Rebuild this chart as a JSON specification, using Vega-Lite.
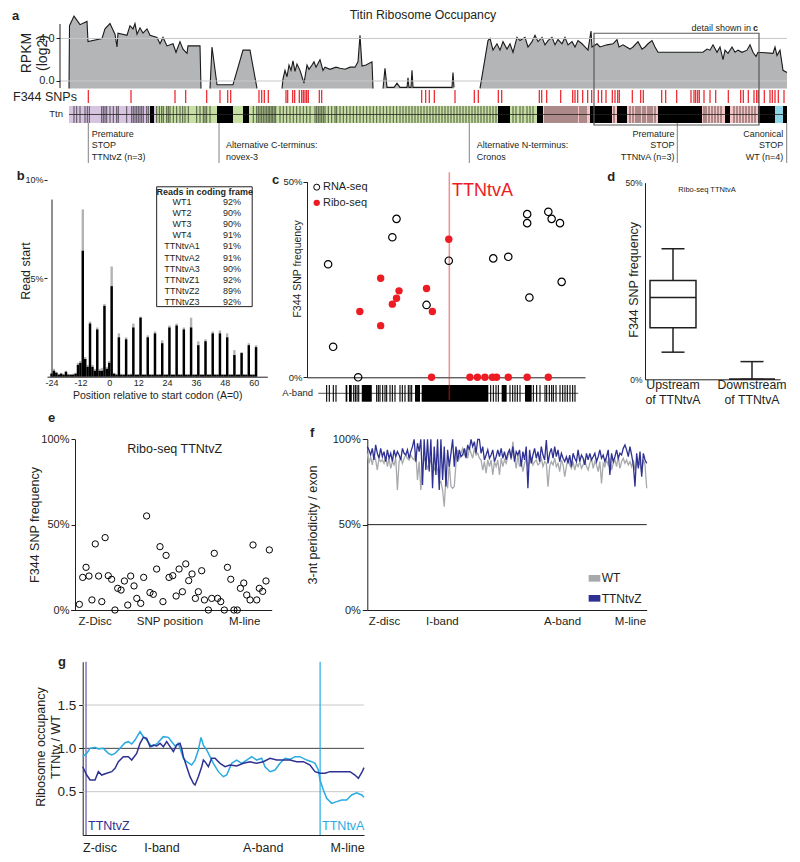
{
"$schema":"https://vega.github.io/schema/vega-lite/v6.json",
"width":800,"height":862,"autosize":"none","padding":0,"background":"white",
"config":{"font":"Liberation Sans","view":{"stroke":null},
 "axis":{"domainColor":"#231f20","tickColor":"#231f20","labelColor":"#231f20","titleColor":"#231f20","grid":false,"labelFlush":false,"labelOverlap":false,"domainWidth":1,"tickWidth":1,"labelFont":"Liberation Sans","titleFont":"Liberation Sans","titleFontWeight":"normal"},
 "text":{"font":"Liberation Sans","color":"#231f20"}},
"resolve":{"scale":{"x":"independent","y":"independent"}},
"datasets":{
"occ":[{"s":1,"p":0,"v":-0.7},{"s":1,"p":0.5,"v":5.2},{"s":1,"p":5,"v":6.1},{"s":1,"p":11,"v":5.3},{"s":1,"p":18,"v":5.6},{"s":1,"p":19,"v":3.7},{"s":1,"p":33,"v":4.0},{"s":1,"p":36,"v":4.9},{"s":1,"p":41,"v":5.4},{"s":1,"p":44,"v":4.8},{"s":1,"p":46,"v":4.4},{"s":1,"p":48,"v":3.2},{"s":1,"p":49,"v":4.5},{"s":1,"p":58,"v":4.3},{"s":1,"p":61,"v":5.2},{"s":1,"p":64,"v":4.9},{"s":1,"p":66,"v":5.4},{"s":1,"p":68,"v":4.4},{"s":1,"p":71,"v":5.0},{"s":1,"p":74,"v":4.5},{"s":1,"p":78,"v":4.9},{"s":1,"p":81,"v":4.3},{"s":1,"p":88,"v":4.1},{"s":1,"p":91,"v":3.5},{"s":1,"p":94,"v":4.1},{"s":1,"p":98,"v":3.3},{"s":1,"p":104,"v":3.5},{"s":1,"p":107,"v":2.7},{"s":1,"p":111,"v":3.7},{"s":1,"p":114,"v":3.0},{"s":1,"p":118,"v":2.6},{"s":1,"p":119,"v":3.3},{"s":1,"p":131,"v":3.3},{"s":1,"p":132,"v":-0.7},
{"s":2,"p":141,"v":-0.7},{"s":2,"p":143,"v":3.2},{"s":2,"p":148,"v":-0.35},{"s":2,"p":164,"v":-0.35},{"s":2,"p":174,"v":2.9},{"s":2,"p":181,"v":2.9},{"s":2,"p":188,"v":-0.7},
{"s":3,"p":213,"v":-0.7},{"s":3,"p":214,"v":0.2},{"s":3,"p":216,"v":1.0},{"s":3,"p":218,"v":0.4},{"s":3,"p":220,"v":1.5},{"s":3,"p":222,"v":1.0},{"s":3,"p":224,"v":1.9},{"s":3,"p":226,"v":0.9},{"s":3,"p":228,"v":1.6},{"s":3,"p":231,"v":1.0},{"s":3,"p":233,"v":0.4},{"s":3,"p":235,"v":-0.2},{"s":3,"p":238,"v":1.5},{"s":3,"p":240,"v":1.1},{"s":3,"p":243,"v":1.5},{"s":3,"p":245,"v":1.8},{"s":3,"p":247,"v":1.3},{"s":3,"p":251,"v":2.0},{"s":3,"p":254,"v":1.0},{"s":3,"p":256,"v":1.3},{"s":3,"p":261,"v":1.1},{"s":3,"p":267,"v":1.3},{"s":3,"p":271,"v":1.2},{"s":3,"p":276,"v":1.1},{"s":3,"p":281,"v":1.3},{"s":3,"p":286,"v":1.3},{"s":3,"p":289,"v":1.8},{"s":3,"p":291,"v":4.3},{"s":3,"p":293,"v":1.4},{"s":3,"p":297,"v":1.5},{"s":3,"p":303,"v":1.8},{"s":3,"p":304,"v":-0.7},
{"s":4,"p":314,"v":-0.7},{"s":4,"p":316,"v":1.2},{"s":4,"p":318,"v":-0.6},{"s":4,"p":325,"v":-0.6},{"s":4,"p":328,"v":-0.2},{"s":4,"p":331,"v":-0.6},{"s":4,"p":338,"v":-0.6},{"s":4,"p":339,"v":0.3},{"s":4,"p":340,"v":-0.6},{"s":4,"p":342,"v":-0.6},{"s":4,"p":343,"v":1.0},{"s":4,"p":344,"v":-0.6},{"s":4,"p":383,"v":-0.6},{"s":4,"p":384,"v":0.8},{"s":4,"p":385,"v":-0.6},
{"s":5,"p":411,"v":-0.7},{"s":5,"p":419,"v":3.8},{"s":5,"p":421,"v":4.0},{"s":5,"p":424,"v":2.9},{"s":5,"p":428,"v":3.5},{"s":5,"p":431,"v":2.9},{"s":5,"p":434,"v":3.7},{"s":5,"p":438,"v":3.0},{"s":5,"p":441,"v":3.5},{"s":5,"p":444,"v":2.7},{"s":5,"p":448,"v":4.1},{"s":5,"p":451,"v":3.8},{"s":5,"p":456,"v":4.1},{"s":5,"p":459,"v":3.2},{"s":5,"p":463,"v":3.7},{"s":5,"p":466,"v":4.3},{"s":5,"p":469,"v":3.7},{"s":5,"p":473,"v":4.1},{"s":5,"p":476,"v":3.4},{"s":5,"p":479,"v":3.8},{"s":5,"p":483,"v":4.1},{"s":5,"p":486,"v":3.4},{"s":5,"p":489,"v":3.9},{"s":5,"p":493,"v":3.5},{"s":5,"p":496,"v":4.1},{"s":5,"p":499,"v":3.4},{"s":5,"p":503,"v":3.7},{"s":5,"p":506,"v":3.2},{"s":5,"p":509,"v":3.8},{"s":5,"p":513,"v":3.5},{"s":5,"p":516,"v":3.2},{"s":5,"p":519,"v":2.9},{"s":5,"p":522,"v":4.7},{"s":5,"p":523,"v":3.2},{"s":5,"p":528,"v":3.5},{"s":5,"p":531,"v":3.2},{"s":5,"p":538,"v":3.4},{"s":5,"p":544,"v":3.5},{"s":5,"p":548,"v":3.9},{"s":5,"p":550,"v":3.2},{"s":5,"p":554,"v":3.4},{"s":5,"p":561,"v":3.0},{"s":5,"p":564,"v":3.2},{"s":5,"p":569,"v":3.7},{"s":5,"p":573,"v":3.0},{"s":5,"p":576,"v":3.2},{"s":5,"p":579,"v":3.5},{"s":5,"p":583,"v":3.8},{"s":5,"p":586,"v":3.2},{"s":5,"p":589,"v":2.7},{"s":5,"p":634,"v":2.7},{"s":5,"p":638,"v":3.0},{"s":5,"p":641,"v":2.9},{"s":5,"p":644,"v":3.4},{"s":5,"p":648,"v":2.7},{"s":5,"p":651,"v":3.2},{"s":5,"p":654,"v":2.0},{"s":5,"p":656,"v":2.9},{"s":5,"p":659,"v":2.6},{"s":5,"p":663,"v":3.2},{"s":5,"p":666,"v":2.7},{"s":5,"p":669,"v":2.9},{"s":5,"p":673,"v":2.7},{"s":5,"p":678,"v":2.9},{"s":5,"p":681,"v":3.4},{"s":5,"p":684,"v":2.7},{"s":5,"p":687,"v":2.3},{"s":5,"p":689,"v":2.7},{"s":5,"p":704,"v":2.6},{"s":5,"p":706,"v":3.2},{"s":5,"p":708,"v":2.4},{"s":5,"p":711,"v":2.9},{"s":5,"p":714,"v":1.0},{"s":5,"p":718,"v":0.8}],
"snp":[{"p":19.3},{"p":62},{"p":106},{"p":116.7},{"p":137.7},{"p":151},{"p":158.7},{"p":161.7},{"p":190},{"p":192.7},{"p":195.3},{"p":199.3},{"p":217},{"p":218.7},{"p":223.7},{"p":225.7},{"p":230.3},{"p":232.7},{"p":234.3},{"p":236},{"p":237.7},{"p":239.3},{"p":250.3},{"p":252.7},{"p":352.7},{"p":356.7},{"p":360.3},{"p":365.3},{"p":386},{"p":405.3},{"p":409.3},{"p":429.3},{"p":432.7},{"p":470.3},{"p":472.7},{"p":477.7},{"p":491.7},{"p":503.7},{"p":506},{"p":508.7},{"p":513.7},{"p":518.7},{"p":522.7},{"p":529.3},{"p":532.7},{"p":537},{"p":543.3},{"p":546},{"p":548.7},{"p":550.3},{"p":563.3},{"p":571.7},{"p":574.3},{"p":592.7},{"p":596.7},{"p":607.7},{"p":622},{"p":625},{"p":626.7},{"p":628.7},{"p":630.3},{"p":635},{"p":641},{"p":646.7},{"p":659.3},{"p":671.7},{"p":674.3},{"p":679.3},{"p":685},{"p":687.7},{"p":689.3},{"p":695.3},{"p":701},{"p":703.3},{"p":706},{"p":709.3},{"p":715}],
"reg":[{"s":0,"e":86,"r":"Z"},{"s":86,"e":474,"r":"I"},{"s":474,"e":706,"r":"A"},{"s":706,"e":714,"r":"M"}],
"blk":[{"s":81,"e":85},{"s":148,"e":164},{"s":174,"e":180},{"s":429,"e":441},{"s":468,"e":474},{"s":521,"e":543},{"s":548,"e":558},{"s":589,"e":633},{"s":656,"e":661},{"s":689,"e":706},{"s":714,"e":718}],
"stp":[{"p":5},{"p":7.7},{"p":11},{"p":16},{"p":18.3},{"p":20.3},{"p":32.7},{"p":34.3},{"p":36},{"p":37.7},{"p":41},{"p":44.3},{"p":47.7},{"p":49.3},{"p":57.7},{"p":62.7},{"p":64.3},{"p":66},{"p":67.7},{"p":69.3},{"p":71},{"p":72.7},{"p":74.3},{"p":77.7},{"p":79.3},{"p":87.7},{"p":90.3},{"p":92.7},{"p":94.3},{"p":97.7},{"p":99.3},{"p":101},{"p":104.3},{"p":107.7},{"p":111},{"p":113.7},{"p":116},{"p":119.3},{"p":127.7},{"p":131},{"p":134.3},{"p":136},{"p":137.7},{"p":141},{"p":184.3},{"p":187.7},{"p":189.3},{"p":191},{"p":192.7},{"p":194.3},{"p":196},{"p":197.7},{"p":199.2},{"p":200.7},{"p":202.2},{"p":203.7},{"p":205.2},{"p":206.7},{"p":211},{"p":214.3},{"p":217.7},{"p":221},{"p":224.3},{"p":227.7},{"p":231},{"p":234.3},{"p":237.7},{"p":241},{"p":246},{"p":247.7},{"p":249.3},{"p":251},{"p":252.7},{"p":254.3},{"p":256},{"p":259.3},{"p":262.7},{"p":266},{"p":267.7},{"p":271},{"p":274.3},{"p":277.7},{"p":281},{"p":284.3},{"p":287.7},{"p":291},{"p":294.3},{"p":297.7},{"p":301},{"p":304.3},{"p":307.7},{"p":311},{"p":314.3},{"p":317.7},{"p":321},{"p":324.3},{"p":327.7},{"p":331},{"p":334},{"p":337},{"p":340},{"p":343},{"p":346},{"p":349},{"p":352},{"p":355},{"p":358},{"p":361},{"p":364},{"p":367},{"p":370},{"p":373},{"p":376},{"p":379},{"p":382},{"p":385},{"p":388},{"p":391},{"p":394},{"p":397},{"p":400},{"p":403},{"p":406},{"p":409},{"p":412},{"p":415},{"p":418},{"p":421},{"p":424},{"p":427},{"p":444},{"p":447},{"p":451},{"p":454},{"p":458},{"p":461},{"p":464},{"p":476},{"p":478},{"p":480},{"p":482},{"p":484},{"p":486},{"p":488},{"p":490},{"p":492},{"p":494},{"p":496},{"p":498},{"p":500},{"p":502},{"p":504},{"p":506},{"p":508},{"p":511},{"p":513},{"p":515},{"p":517},{"p":545},{"p":561},{"p":564},{"p":567},{"p":569},{"p":571},{"p":574},{"p":576},{"p":579},{"p":581},{"p":583},{"p":586},{"p":635},{"p":637},{"p":640},{"p":643},{"p":646},{"p":649},{"p":652},{"p":665},{"p":668},{"p":671},{"p":674},{"p":677},{"p":680},{"p":683},{"p":686}],
"annoLines":[{"p":19.3},{"p":150},{"p":400.3},{"p":608.3},{"p":717.7}],
"annoL":[{"p":22.7,"t":["Premature","STOP","TTNtvZ (n=3)"]},{"p":157,"t":["","Alternative C-terminus:","novex-3"]},{"p":407.7,"t":["","Alternative N-terminus:","Cronos"]}],
"annoR":[{"p":605.5,"t":["Premature","STOP","TTNtvA (n=3)"]},{"p":714.3,"t":["Canonical","STOP","WT (n=4)"]}],
"rd":[{"x":-24,"g":0.2,"k":0.15},{"x":-23,"g":0.4,"k":0.3},{"x":-22,"g":0.25,"k":0.2},{"x":-21,"g":0.15,"k":0.1},{"x":-20,"g":0.2,"k":0.15},{"x":-19,"g":0.15,"k":0.1},{"x":-18,"g":0.3,"k":0.25},{"x":-17,"g":0.15,"k":0.1},{"x":-16,"g":0.12,"k":0.1},{"x":-15,"g":0.15,"k":0.1},{"x":-14,"g":0.2,"k":0.15},{"x":-13,"g":0.7,"k":0.6},{"x":-12,"g":0.8,"k":0.7},{"x":-11,"g":8.5,"k":6.4},{"x":-10,"g":1.0,"k":0.9},{"x":-9,"g":0.6,"k":0.5},{"x":-8,"g":2.8,"k":2.7},{"x":-7,"g":0.6,"k":0.5},{"x":-6,"g":0.4,"k":0.3},{"x":-5,"g":2.5,"k":2.4},{"x":-4,"g":0.4,"k":0.3},{"x":-3,"g":0.45,"k":0.3},{"x":-2,"g":3.7,"k":3.6},{"x":-1,"g":0.5,"k":0.4},{"x":0,"g":0.8,"k":0.7},{"x":1,"g":5.6,"k":4.6},{"x":2,"g":0.2,"k":0.15},{"x":3,"g":0.15,"k":0.1},{"x":4,"g":2.2,"k":2.0},{"x":5,"g":0.15,"k":0.1},{"x":6,"g":0.12,"k":0.1},{"x":7,"g":2.0,"k":1.9},{"x":8,"g":0.12,"k":0.1},{"x":9,"g":0.15,"k":0.1},{"x":10,"g":2.7,"k":2.5},{"x":11,"g":0.12,"k":0.1},{"x":12,"g":0.12,"k":0.1},{"x":13,"g":3.05,"k":3.0},{"x":14,"g":0.12,"k":0.1},{"x":15,"g":0.12,"k":0.1},{"x":16,"g":2.1,"k":2.0},{"x":17,"g":0.12,"k":0.1},{"x":18,"g":0.12,"k":0.1},{"x":19,"g":2.3,"k":2.2},{"x":20,"g":0.12,"k":0.1},{"x":21,"g":0.12,"k":0.1},{"x":22,"g":1.85,"k":1.7},{"x":23,"g":0.12,"k":0.1},{"x":24,"g":0.12,"k":0.1},{"x":25,"g":2.6,"k":2.5},{"x":26,"g":0.12,"k":0.1},{"x":27,"g":0.12,"k":0.1},{"x":28,"g":2.7,"k":2.6},{"x":29,"g":0.12,"k":0.1},{"x":30,"g":0.12,"k":0.1},{"x":31,"g":2.5,"k":2.4},{"x":32,"g":0.12,"k":0.1},{"x":33,"g":0.12,"k":0.1},{"x":34,"g":3.0,"k":2.5},{"x":35,"g":0.12,"k":0.1},{"x":36,"g":0.12,"k":0.1},{"x":37,"g":1.8,"k":1.6},{"x":38,"g":0.12,"k":0.1},{"x":39,"g":0.12,"k":0.1},{"x":40,"g":1.9,"k":1.8},{"x":41,"g":0.12,"k":0.1},{"x":42,"g":0.12,"k":0.1},{"x":43,"g":2.3,"k":2.2},{"x":44,"g":0.12,"k":0.1},{"x":45,"g":0.12,"k":0.1},{"x":46,"g":2.35,"k":2.2},{"x":47,"g":0.12,"k":0.1},{"x":48,"g":0.12,"k":0.1},{"x":49,"g":2.2,"k":2.0},{"x":50,"g":0.12,"k":0.1},{"x":51,"g":0.12,"k":0.1},{"x":52,"g":1.35,"k":1.1},{"x":53,"g":0.12,"k":0.1},{"x":54,"g":0.12,"k":0.1},{"x":55,"g":1.25,"k":1.2},{"x":56,"g":0.12,"k":0.1},{"x":57,"g":0.12,"k":0.1},{"x":58,"g":1.7,"k":1.6},{"x":59,"g":0.12,"k":0.1},{"x":60,"g":0.12,"k":0.1},{"x":61,"g":1.6,"k":1.5}],
"tbl":[{"n":"WT1","v":"92%"},{"n":"WT2","v":"90%"},{"n":"WT3","v":"90%"},{"n":"WT4","v":"91%"},{"n":"TTNtvA1","v":"91%"},{"n":"TTNtvA2","v":"91%"},{"n":"TTNtvA3","v":"90%"},{"n":"TTNtvZ1","v":"92%"},{"n":"TTNtvZ2","v":"89%"},{"n":"TTNtvZ3","v":"92%"}],
"rna":[{"x":7.6,"y":28.9},{"x":9.4,"y":7.8},{"x":18.4,"y":0},{"x":32.2,"y":40.5},{"x":30.7,"y":35.8},{"x":43.0,"y":18.5},{"x":51.0,"y":29.8},{"x":67.0,"y":30.4},{"x":72.4,"y":30.8},{"x":79.2,"y":41.7},{"x":79.2,"y":39.4},{"x":80.0,"y":20.4},{"x":86.8,"y":42.3},{"x":88.0,"y":40.5},{"x":91.0,"y":39.4},{"x":91.6,"y":24.4}],
"ribo":[{"x":19.0,"y":16.8},{"x":26.5,"y":25.3},{"x":26.5,"y":13.2},{"x":30.7,"y":18.7},{"x":32.2,"y":20.2},{"x":33.1,"y":22.1},{"x":43.0,"y":22.7},{"x":45.1,"y":16.8},{"x":51.0,"y":35.3},{"x":44.8,"y":0},{"x":58.6,"y":0},{"x":61.3,"y":0},{"x":64.0,"y":0},{"x":66.7,"y":0},{"x":68.2,"y":0},{"x":72.4,"y":0},{"x":79.2,"y":0},{"x":86.8,"y":0}],
"abT":[{"p":7.07},{"p":8.03},{"p":9.47},{"p":10.43},{"p":16.8},{"p":17.4},{"p":18.0},{"p":18.6},{"p":25.06},{"p":25.66},{"p":26.26},{"p":27.22},{"p":28.06},{"p":28.66},{"p":29.86},{"p":30.7},{"p":31.65},{"p":33.45},{"p":34.29},{"p":35.25},{"p":36.45},{"p":37.05},{"p":37.65},{"p":66.07},{"p":67.03},{"p":67.99},{"p":68.83},{"p":73.02},{"p":73.98},{"p":74.82},{"p":75.66},{"p":76.62},{"p":81.42},{"p":82.61},{"p":83.81},{"p":85.61},{"p":86.21},{"p":87.17},{"p":88.01},{"p":88.61},{"p":89.57},{"p":91.01},{"p":91.97},{"p":92.81},{"p":93.64},{"p":94.6},{"p":95.56},{"p":96.4}],
"abB":[{"s":13.9,"e":14.5},{"s":15.1,"e":16.1},{"s":19.7,"e":23.3},{"s":38.85,"e":40.65},{"s":41.25,"e":65.23},{"s":70.02,"e":71.82},{"s":78.42,"e":80.82}],
"box":[{"g":"Upstream","lo":6.9,"q1":13.1,"md":20.8,"q3":25.1,"hi":33.2},{"g":"Downstream","lo":0,"q1":0,"md":0,"q3":0,"hi":4.5}],
"ez":[{"x":2.2,"y":3.3},{"x":3.9,"y":19.1},{"x":5.6,"y":25.0},{"x":7.1,"y":19.9},{"x":8.6,"y":5.9},{"x":10.3,"y":38.7},{"x":12.0,"y":19.9},{"x":13.6,"y":4.9},{"x":15.3,"y":42.4},{"x":16.9,"y":20.1},{"x":18.6,"y":18.0},{"x":20.3,"y":0},{"x":21.7,"y":12.7},{"x":23.4,"y":11.7},{"x":25.1,"y":17.0},{"x":26.8,"y":2.9},{"x":28.3,"y":19.9},{"x":30.0,"y":14.1},{"x":31.4,"y":6.8},{"x":33.4,"y":3.9},{"x":34.9,"y":19.1},{"x":36.4,"y":55.1},{"x":38.1,"y":10.2},{"x":39.8,"y":9.2},{"x":41.5,"y":24.0},{"x":43.2,"y":37.1},{"x":44.7,"y":4.9},{"x":46.3,"y":32.0},{"x":47.8,"y":19.1},{"x":49.7,"y":20.1},{"x":51.4,"y":8.2},{"x":52.9,"y":24.0},{"x":54.6,"y":10.7},{"x":56.3,"y":27.0},{"x":57.8,"y":17.2},{"x":59.5,"y":21.1},{"x":61.2,"y":6.8},{"x":62.7,"y":10.7},{"x":64.4,"y":23.0},{"x":65.8,"y":5.9},{"x":67.8,"y":0},{"x":69.5,"y":6.8},{"x":70.8,"y":33.2},{"x":72.5,"y":6.8},{"x":74.1,"y":4.9},{"x":75.9,"y":0},{"x":77.5,"y":25.0},{"x":79.2,"y":18.0},{"x":80.8,"y":0},{"x":82.5,"y":0},{"x":84.1,"y":12.7},{"x":85.8,"y":15.8},{"x":87.3,"y":8.8},{"x":89.0,"y":5.9},{"x":90.5,"y":38.1},{"x":92.4,"y":5.9},{"x":93.7,"y":12.7},{"x":95.4,"y":10.9},{"x":97.1,"y":17.0},{"x":98.8,"y":35.2}],
"fp":[{"i":0,"w":91.8,"t":95.7},{"i":1,"w":85.9,"t":93.8},{"i":2,"w":89.8,"t":90.8},{"i":3,"w":85.0,"t":94.7},{"i":4,"w":90.8,"t":87.9},{"i":5,"w":87.9,"t":96.7},{"i":6,"w":82.0,"t":91.8},{"i":7,"w":88.9,"t":88.9},{"i":8,"w":86.9,"t":94.7},{"i":9,"w":87.9,"t":89.8},{"i":10,"w":85.9,"t":92.8},{"i":11,"w":89.8,"t":86.9},{"i":12,"w":84.0,"t":93.8},{"i":13,"w":88.9,"t":88.9},{"i":14,"w":83.0,"t":91.8},{"i":15,"w":86.9,"t":86.9},{"i":16,"w":85.0,"t":93.8},{"i":17,"w":88.9,"t":89.8},{"i":18,"w":70.3,"t":92.8},{"i":19,"w":86.9,"t":90.8},{"i":20,"w":88.9,"t":87.9},{"i":21,"w":85.9,"t":94.7},{"i":22,"w":88.9,"t":91.8},{"i":23,"w":90.8,"t":90.8},{"i":24,"w":88.9,"t":93.8},{"i":25,"w":87.9,"t":88.9},{"i":26,"w":90.8,"t":92.8},{"i":27,"w":88.9,"t":95.7},{"i":28,"w":87.9,"t":100},{"i":29,"w":91.8,"t":86.9},{"i":30,"w":76.2,"t":97.7},{"i":31,"w":86.9,"t":92.8},{"i":32,"w":70.3,"t":100},{"i":33,"w":84.0,"t":73.2},{"i":34,"w":88.9,"t":100},{"i":35,"w":86.9,"t":82.0},{"i":36,"w":83.0,"t":100},{"i":37,"w":85.0,"t":81.1},{"i":38,"w":87.9,"t":100},{"i":39,"w":84.0,"t":71.3},{"i":40,"w":82.0,"t":95.7},{"i":41,"w":85.0,"t":79.1},{"i":42,"w":82.0,"t":100},{"i":43,"w":74.2,"t":70.3},{"i":44,"w":75.2,"t":100},{"i":45,"w":70.3,"t":76.2},{"i":46,"w":60.5,"t":95.7},{"i":47,"w":78.1,"t":72.3},{"i":48,"w":71.3,"t":93.8},{"i":49,"w":85.9,"t":84.0},{"i":50,"w":72.3,"t":91.8},{"i":51,"w":71.3,"t":100},{"i":52,"w":72.3,"t":84.0},{"i":53,"w":85.9,"t":95.7},{"i":54,"w":93.8,"t":86.9},{"i":55,"w":88.9,"t":93.8},{"i":56,"w":91.8,"t":89.8},{"i":57,"w":94.7,"t":90.8},{"i":58,"w":90.8,"t":94.7},{"i":59,"w":93.8,"t":88.9},{"i":60,"w":88.9,"t":96.7},{"i":61,"w":94.7,"t":93.8},{"i":62,"w":91.8,"t":100},{"i":63,"w":88.9,"t":95.7},{"i":64,"w":94.7,"t":98.6},{"i":65,"w":90.8,"t":91.8},{"i":66,"w":91.8,"t":100},{"i":67,"w":88.9,"t":100},{"i":68,"w":87.9,"t":91.8},{"i":69,"w":82.0,"t":95.7},{"i":70,"w":86.9,"t":87.9},{"i":71,"w":80.1,"t":90.8},{"i":72,"w":87.9,"t":93.8},{"i":73,"w":84.0,"t":88.9},{"i":74,"w":87.9,"t":90.8},{"i":75,"w":79.1,"t":93.8},{"i":76,"w":86.9,"t":86.9},{"i":77,"w":84.0,"t":89.8},{"i":78,"w":87.9,"t":93.8},{"i":79,"w":79.1,"t":89.8},{"i":80,"w":88.9,"t":94.7},{"i":81,"w":84.0,"t":88.9},{"i":82,"w":87.9,"t":92.8},{"i":83,"w":85.9,"t":87.9},{"i":84,"w":89.8,"t":91.8},{"i":85,"w":93.8,"t":93.8},{"i":86,"w":87.9,"t":88.9},{"i":87,"w":98.6,"t":95.7},{"i":88,"w":88.9,"t":86.9},{"i":89,"w":83.0,"t":92.8},{"i":90,"w":90.8,"t":90.8},{"i":91,"w":84.0,"t":93.8},{"i":92,"w":86.9,"t":84.0},{"i":93,"w":81.1,"t":92.8},{"i":94,"w":85.9,"t":87.9},{"i":95,"w":88.9,"t":95.7},{"i":96,"w":84.0,"t":71.3},{"i":97,"w":86.9,"t":93.8},{"i":98,"w":88.9,"t":85.9},{"i":99,"w":85.0,"t":90.8},{"i":100,"w":86.9,"t":94.7},{"i":101,"w":87.9,"t":88.9},{"i":102,"w":85.0,"t":92.8},{"i":103,"w":85.9,"t":86.9},{"i":104,"w":88.9,"t":95.7},{"i":105,"w":84.0,"t":90.8},{"i":106,"w":86.9,"t":87.9},{"i":107,"w":85.9,"t":99.6},{"i":108,"w":72.3,"t":85.9},{"i":109,"w":84.0,"t":91.8},{"i":110,"w":86.9,"t":94.7},{"i":111,"w":85.0,"t":88.9},{"i":112,"w":88.9,"t":95.7},{"i":113,"w":84.0,"t":89.8},{"i":114,"w":85.9,"t":93.8},{"i":115,"w":81.1,"t":86.9},{"i":116,"w":87.9,"t":91.8},{"i":117,"w":85.0,"t":88.9},{"i":118,"w":78.1,"t":86.9},{"i":119,"w":84.0,"t":89.8},{"i":120,"w":88.9,"t":85.9},{"i":121,"w":85.0,"t":90.8},{"i":122,"w":83.0,"t":84.0},{"i":123,"w":86.9,"t":91.8},{"i":124,"w":82.0,"t":88.9},{"i":125,"w":85.9,"t":86.9},{"i":126,"w":84.0,"t":93.8},{"i":127,"w":86.9,"t":86.9},{"i":128,"w":83.0,"t":90.8},{"i":129,"w":85.0,"t":88.9},{"i":130,"w":87.9,"t":85.0},{"i":131,"w":84.0,"t":91.8},{"i":132,"w":82.0,"t":87.9},{"i":133,"w":85.9,"t":91.8},{"i":134,"w":88.9,"t":87.9},{"i":135,"w":83.0,"t":89.8},{"i":136,"w":86.9,"t":91.8},{"i":137,"w":85.0,"t":86.9},{"i":138,"w":81.1,"t":89.8},{"i":139,"w":86.9,"t":93.8},{"i":140,"w":74.2,"t":88.9},{"i":141,"w":85.9,"t":90.8},{"i":142,"w":84.0,"t":86.9},{"i":143,"w":87.9,"t":89.8},{"i":144,"w":85.0,"t":93.8},{"i":145,"w":88.9,"t":79.1},{"i":146,"w":82.0,"t":91.8},{"i":147,"w":85.9,"t":86.9},{"i":148,"w":87.9,"t":89.8},{"i":149,"w":84.0,"t":93.8},{"i":150,"w":89.8,"t":88.9},{"i":151,"w":83.0,"t":91.8},{"i":152,"w":86.9,"t":90.8},{"i":153,"w":88.9,"t":94.7},{"i":154,"w":85.9,"t":96.7},{"i":155,"w":87.9,"t":93.8},{"i":156,"w":85.0,"t":89.8},{"i":157,"w":86.9,"t":95.7},{"i":158,"w":84.0,"t":90.8},{"i":159,"w":87.9,"t":85.0},{"i":160,"w":82.0,"t":72.3},{"i":161,"w":86.9,"t":91.8},{"i":162,"w":84.0,"t":83.0},{"i":163,"w":86.9,"t":92.8},{"i":164,"w":80.1,"t":78.1},{"i":165,"w":87.9,"t":91.8},{"i":166,"w":85.0,"t":87.9},{"i":167,"w":71.3,"t":85.9}],
"gc":[{"x":0,"y":0.904},{"x":1.42,"y":0.942},{"x":2.61,"y":1.0},{"x":4.38,"y":1.012},{"x":5.57,"y":0.992},{"x":7.35,"y":1.0},{"x":9.12,"y":0.942},{"x":10.31,"y":0.923},{"x":11.49,"y":0.942},{"x":13.27,"y":1.0},{"x":15.05,"y":1.065},{"x":16.23,"y":1.077},{"x":17.42,"y":1.05},{"x":18.6,"y":1.096},{"x":20.38,"y":1.192},{"x":21.56,"y":1.135},{"x":22.75,"y":1.096},{"x":24.53,"y":1.019},{"x":26.3,"y":1.05},{"x":28.67,"y":1.135},{"x":30.45,"y":1.127},{"x":31.64,"y":1.077},{"x":32.82,"y":1.027},{"x":34.0,"y":1.058},{"x":35.19,"y":0.942},{"x":35.78,"y":0.885},{"x":36.97,"y":0.846},{"x":38.74,"y":0.808},{"x":39.93,"y":0.865},{"x":41.11,"y":0.981},{"x":42.06,"y":1.127},{"x":42.89,"y":1.038},{"x":44.08,"y":0.981},{"x":45.26,"y":0.904},{"x":46.45,"y":0.827},{"x":48.22,"y":0.731},{"x":50.0,"y":0.673},{"x":51.18,"y":0.692},{"x":52.96,"y":0.827},{"x":54.74,"y":0.865},{"x":56.52,"y":0.827},{"x":58.29,"y":0.865},{"x":60.07,"y":0.904},{"x":61.85,"y":0.865},{"x":63.63,"y":0.885},{"x":64.81,"y":0.788},{"x":66.59,"y":0.731},{"x":68.36,"y":0.75},{"x":70.14,"y":0.827},{"x":71.92,"y":0.885},{"x":73.7,"y":0.873},{"x":75.47,"y":0.904},{"x":77.25,"y":0.904},{"x":79.62,"y":0.865},{"x":81.4,"y":0.846},{"x":82.58,"y":0.827},{"x":83.77,"y":0.75},{"x":84.36,"y":0.635},{"x":85.55,"y":0.519},{"x":86.73,"y":0.423},{"x":88.51,"y":0.365},{"x":90.28,"y":0.385},{"x":92.06,"y":0.404},{"x":93.84,"y":0.404},{"x":95.62,"y":0.462},{"x":97.39,"y":0.488},{"x":99.17,"y":0.462},{"x":100,"y":0.435}],
"gn":[{"x":0,"y":0.788},{"x":1.42,"y":0.692},{"x":2.61,"y":0.635},{"x":4.38,"y":0.635},{"x":5.57,"y":0.731},{"x":6.75,"y":0.692},{"x":8.53,"y":0.712},{"x":10.31,"y":0.731},{"x":11.49,"y":0.769},{"x":12.68,"y":0.846},{"x":14.45,"y":0.904},{"x":16.23,"y":0.904},{"x":17.42,"y":0.865},{"x":19.19,"y":0.942},{"x":20.38,"y":1.058},{"x":21.56,"y":1.127},{"x":22.75,"y":1.115},{"x":23.93,"y":1.019},{"x":25.12,"y":1.038},{"x":26.3,"y":1.027},{"x":27.49,"y":1.058},{"x":28.67,"y":1.019},{"x":29.86,"y":1.077},{"x":31.04,"y":1.019},{"x":32.23,"y":0.962},{"x":33.41,"y":1.038},{"x":34.6,"y":1.058},{"x":35.19,"y":1.0},{"x":35.78,"y":0.904},{"x":36.97,"y":0.788},{"x":38.15,"y":0.673},{"x":39.34,"y":0.596},{"x":39.93,"y":0.577},{"x":41.11,"y":0.673},{"x":42.3,"y":0.788},{"x":42.89,"y":0.865},{"x":43.48,"y":0.846},{"x":44.67,"y":0.788},{"x":45.85,"y":0.885},{"x":47.04,"y":0.885},{"x":48.82,"y":0.827},{"x":50.59,"y":0.788},{"x":52.37,"y":0.808},{"x":54.74,"y":0.796},{"x":57.11,"y":0.827},{"x":59.48,"y":0.846},{"x":61.85,"y":0.827},{"x":64.22,"y":0.846},{"x":66.59,"y":0.885},{"x":68.96,"y":0.865},{"x":71.33,"y":0.865},{"x":73.7,"y":0.865},{"x":76.07,"y":0.846},{"x":78.44,"y":0.846},{"x":80.81,"y":0.808},{"x":82.58,"y":0.731},{"x":84.36,"y":0.712},{"x":86.14,"y":0.712},{"x":87.91,"y":0.731},{"x":90.28,"y":0.731},{"x":92.65,"y":0.731},{"x":95.02,"y":0.731},{"x":96.8,"y":0.692},{"x":97.99,"y":0.654},{"x":99.17,"y":0.719},{"x":100,"y":0.777}]
},
"layer":[
{"layer":[
 {"data":{"name":"reg"},"mark":{"type":"rect"},"encoding":{"x":{"field":"s","type":"quantitative","axis":null},"x2":{"field":"e"},"y":{"datum":-2.35},"y2":{"datum":-3.95},"color":{"field":"r","type":"nominal","scale":{"domain":["Z","I","A","M"],"range":["#d7c4e0","#c6dfa3","#f7c5c5","#8ed6e6"]},"legend":null}}},
 {"data":{"name":"stp"},"mark":{"type":"rule","color":"#000000","strokeWidth":1,"opacity":0.6},"encoding":{"x":{"field":"p","type":"quantitative","axis":null},"y":{"datum":-2.35},"y2":{"datum":-3.95}}},
 {"data":{"name":"blk"},"mark":{"type":"rect","color":"#000000"},"encoding":{"x":{"field":"s","type":"quantitative","axis":null},"x2":{"field":"e"},"y":{"datum":-2.35},"y2":{"datum":-3.95}}},
 {"data":{"values":[{}]},"mark":{"type":"rule","color":"#231f20","strokeWidth":0.8},"encoding":{"x":{"datum":0,"axis":null},"x2":{"datum":718},"y":{"datum":-3.15}}},
 {"data":{"name":"occ"},"mark":{"type":"area","color":"#939598","line":{"color":"#1a1a1a","strokeWidth":1.1}},"encoding":{
   "x":{"field":"p","type":"quantitative","scale":{"domain":[0,718],"range":[69,787],"nice":false,"zero":false},"axis":null},
   "y":{"field":"v","type":"quantitative","scale":{"domain":[-7.9,6.3],"range":[165,14],"nice":false,"zero":false},"axis":{"orient":"left","offset":-60,"values":[0,4],"domain":false,"tickSize":4,"labelFontSize":11,"labelPadding":2,"title":null}},
   "y2":{"datum":-0.7},"detail":{"field":"s","type":"nominal"}}},
 {"data":{"values":[{"g":0},{"g":4}]},"mark":{"type":"rule","color":"#c7c8ca","strokeWidth":1},"encoding":{"x":{"datum":-9,"axis":null},"x2":{"datum":718},"y":{"field":"g","type":"quantitative"}}},
 {"data":{"values":[{}]},"mark":{"type":"rule","color":"#231f20","strokeWidth":1},"encoding":{"x":{"datum":-9,"axis":null},"y":{"datum":-0.66},"y2":{"datum":5.36}}},
 {"data":{"name":"snp"},"mark":{"type":"rule","color":"#ed1c24","strokeWidth":1.2},"encoding":{"x":{"field":"p","type":"quantitative","axis":null},"y":{"datum":-0.85},"y2":{"datum":-2.07}}},
 {"data":{"name":"annoLines"},"mark":{"type":"rule","color":"#808285","strokeWidth":1},"encoding":{"x":{"field":"p","type":"quantitative","axis":null},"y":{"datum":-3.95},"y2":{"datum":-7.71}}},
 {"data":{"name":"annoL"},"mark":{"type":"text","fontSize":9,"align":"left","baseline":"bottom","lineHeight":11.5},"encoding":{"x":{"field":"p","type":"quantitative","axis":null},"y":{"datum":-5.41},"text":{"field":"t"}}},
 {"data":{"name":"annoR"},"mark":{"type":"text","fontSize":9,"align":"right","baseline":"bottom","lineHeight":11.5},"encoding":{"x":{"field":"p","type":"quantitative","axis":null},"y":{"datum":-5.41},"text":{"field":"t"}}},
 {"data":{"values":[{}]},"mark":{"type":"rect","filled":false,"stroke":"#58595b","strokeWidth":1.2},"encoding":{"x":{"datum":525,"axis":null},"x2":{"datum":690},"y":{"datum":4.49},"y2":{"datum":-4.14}}},
 {"data":{"values":[{}]},"mark":{"type":"text","text":"Titin Ribosome Occupancy","fontSize":12.3,"align":"center","baseline":"middle"},"encoding":{"x":{"datum":354,"axis":null},"y":{"datum":6.21}}},
 {"data":{"values":[{}]},"mark":{"type":"text","text":"a","fontSize":13,"fontWeight":"bold","align":"left","baseline":"middle"},"encoding":{"x":{"datum":-57,"axis":null},"y":{"datum":6.11}}},
 {"data":{"values":[{}]},"mark":{"type":"text","text":"detail shown in","fontSize":9,"align":"right","baseline":"middle"},"encoding":{"x":{"datum":682,"axis":null},"y":{"datum":5.03}}},
 {"data":{"values":[{}]},"mark":{"type":"text","text":"c","fontSize":9,"fontWeight":"bold","align":"left","baseline":"middle"},"encoding":{"x":{"datum":684,"axis":null},"y":{"datum":5.03}}},
 {"data":{"values":[{}]},"mark":{"type":"text","text":"F344 SNPs","fontSize":12.5,"align":"left","baseline":"middle"},"encoding":{"x":{"datum":-56,"axis":null},"y":{"datum":-1.51}}},
 {"data":{"values":[{}]},"mark":{"type":"text","text":"Ttn","fontSize":9.5,"align":"right","baseline":"middle"},"encoding":{"x":{"datum":-6,"axis":null},"y":{"datum":-3.15}}},
 {"data":{"values":[{}]},"mark":{"type":"text","text":["RPKM","(log2)"],"fontSize":14,"lineHeight":16,"angle":270,"align":"center","baseline":"middle"},"encoding":{"x":{"datum":-42,"axis":null},"y":{"datum":2.63}}}
]},
{"layer":[
 {"data":{"name":"rd"},"mark":{"type":"bar","color":"#b1b3b6","width":2.4},"encoding":{
   "x":{"field":"x","type":"quantitative","scale":{"domain":[-23.8,63.6],"range":[47,267.3],"nice":false,"zero":false},"axis":{"orient":"bottom","offset":-485.3,"values":[-24,-12,0,12,24,36,48,60],"labelExpr":"'' + datum.value","tickSize":0,"labelFontSize":9,"labelPadding":2,"title":"Position relative to start codon (A=0)","titleFontSize":10.5,"titlePadding":3}},
   "y":{"field":"g","type":"quantitative","scale":{"domain":[0,10],"range":[376.7,179.9],"nice":false},"axis":{"orient":"left","offset":-47,"values":[5,10],"labelExpr":"datum.value + '%'","domain":false,"tickSize":3,"labelFontSize":9,"labelPadding":1,"title":null}}}},
 {"data":{"name":"rd"},"mark":{"type":"bar","color":"#000000","width":2.4},"encoding":{"x":{"field":"x","type":"quantitative"},"y":{"field":"k","type":"quantitative"}}},
 {"data":{"values":[{}]},"mark":{"type":"rule","color":"#231f20","strokeWidth":1},"encoding":{"x":{"datum":-23.8},"y":{"datum":0},"y2":{"datum":9.0}}},
 {"data":{"values":[{}]},"mark":{"type":"rect","filled":false,"stroke":"#231f20","strokeWidth":1},"encoding":{"x":{"datum":19.7},"x2":{"datum":59.4},"y":{"datum":3.56},"y2":{"datum":9.65}}},
 {"data":{"values":[{}]},"mark":{"type":"text","text":"Reads in coding frame","fontSize":9,"fontWeight":"bold","align":"center","baseline":"middle"},"encoding":{"x":{"datum":39.7},"y":{"datum":9.39}}},
 {"data":{"values":[{}]},"mark":{"type":"text","text":"b","fontSize":13,"fontWeight":"bold","align":"left","baseline":"middle"},"encoding":{"x":{"datum":-38.5},"y":{"datum":10.2}}},
 {"data":{"values":[{}]},"mark":{"type":"text","text":"Read start","fontSize":12.5,"angle":270,"align":"center","baseline":"middle"},"encoding":{"x":{"datum":-34.5},"y":{"datum":5.37}}}
]},
{"data":{"name":"tbl"},"layer":[
 {"mark":{"type":"text","fontSize":9,"align":"center","baseline":"middle"},"encoding":{"x":{"datum":0,"scale":{"domain":[0,1],"range":[182,232],"nice":false,"zero":false},"axis":null},"y":{"field":"n","type":"nominal","sort":null,"scale":{"type":"point","range":[202.3,301.7],"padding":0},"axis":null},"text":{"field":"n"}}},
 {"mark":{"type":"text","fontSize":9,"align":"center","baseline":"middle"},"encoding":{"x":{"datum":1,"axis":null},"y":{"field":"n","type":"nominal","sort":null,"axis":null},"text":{"field":"v"}}}
]},
{"layer":[
 {"data":{"values":[{}]},"mark":{"type":"rule","color":"#231f20","strokeWidth":0.8},"encoding":{"x":{"datum":4.08},"x2":{"datum":97.6},"y":{"datum":-4.09}}},
 {"data":{"name":"abT"},"mark":{"type":"rule","color":"#000000","strokeWidth":1.1},"encoding":{"x":{"field":"p","type":"quantitative"},"y":{"datum":-1.97},"y2":{"datum":-6.24}}},
 {"data":{"name":"abB"},"mark":{"type":"rect","color":"#000000"},"encoding":{"x":{"field":"s","type":"quantitative"},"x2":{"field":"e"},"y":{"datum":-1.97},"y2":{"datum":-6.24}}},
 {"data":{"values":[{}]},"mark":{"type":"rule","color":"#ed1c24","strokeWidth":1.5,"opacity":0.5},"encoding":{"x":{"datum":51.2},"y":{"datum":52.4},"y2":{"datum":-5.8}}},
 {"data":{"name":"rna"},"mark":{"type":"point","filled":false,"color":"#000000","strokeWidth":1.2,"size":55,"opacity":1},"encoding":{
   "x":{"field":"x","type":"quantitative","scale":{"domain":[0,100],"range":[307,585],"nice":false,"zero":false},"axis":{"orient":"bottom","offset":-484.7,"labels":false,"ticks":false,"domain":true,"title":null}},
   "y":{"field":"y","type":"quantitative","scale":{"domain":[0,50],"range":[377.3,181.7],"nice":false,"zero":false},"axis":{"orient":"left","offset":-307,"values":[0,50],"labelExpr":"datum.value + '%'","tickSize":4,"labelFontSize":9.5,"labelPadding":1,"title":null}}}},
 {"data":{"name":"ribo"},"mark":{"type":"point","filled":true,"color":"#ed1c24","size":55,"opacity":1},"encoding":{"x":{"field":"x","type":"quantitative"},"y":{"field":"y","type":"quantitative"}}},
 {"data":{"values":[{}]},"mark":{"type":"point","filled":false,"color":"#000000","strokeWidth":1,"size":36,"opacity":1},"encoding":{"x":{"datum":3.5},"y":{"datum":48.6}}},
 {"data":{"values":[{}]},"mark":{"type":"point","filled":true,"color":"#ed1c24","size":40,"opacity":1},"encoding":{"x":{"datum":3.5},"y":{"datum":44.6}}},
 {"data":{"values":[{}]},"mark":{"type":"text","text":"RNA-seq","fontSize":11,"align":"left","baseline":"middle"},"encoding":{"x":{"datum":5.75},"y":{"datum":48.6}}},
 {"data":{"values":[{}]},"mark":{"type":"text","text":"Ribo-seq","fontSize":11,"align":"left","baseline":"middle"},"encoding":{"x":{"datum":5.75},"y":{"datum":44.6}}},
 {"data":{"values":[{}]},"mark":{"type":"text","text":"TTNtvA","fontSize":18,"color":"#ed1c24","align":"left","baseline":"middle"},"encoding":{"x":{"datum":52.2},"y":{"datum":47.6}}},
 {"data":{"values":[{}]},"mark":{"type":"text","text":"c","fontSize":13,"fontWeight":"bold","align":"left","baseline":"middle"},"encoding":{"x":{"datum":-12.6},"y":{"datum":50.4}}},
 {"data":{"values":[{}]},"mark":{"type":"text","text":"F344 SNP frequency","fontSize":10.5,"angle":270,"align":"center","baseline":"middle"},"encoding":{"x":{"datum":-3.24},"y":{"datum":27.7}}},
 {"data":{"values":[{}]},"mark":{"type":"text","text":"A-band","fontSize":9.5,"align":"right","baseline":"middle"},"encoding":{"x":{"datum":2.16},"y":{"datum":-4.09}}}
]},
{"layer":[
 {"data":{"name":"box"},"mark":{"type":"rule","color":"#231f20","strokeWidth":1.5},"encoding":{"x":{"field":"g","type":"nominal"},"y":{"field":"lo","type":"quantitative"},"y2":{"field":"q1"}}},
 {"data":{"name":"box"},"mark":{"type":"rule","color":"#231f20","strokeWidth":1.5},"encoding":{"x":{"field":"g","type":"nominal"},"y":{"field":"q3","type":"quantitative"},"y2":{"field":"hi"}}},
 {"data":{"name":"box"},"mark":{"type":"bar","fill":"white","stroke":"#231f20","strokeWidth":1.5},"encoding":{
   "x":{"field":"g","type":"nominal","scale":{"type":"band","domain":["Upstream","Downstream"],"range":[645,780],"paddingInner":0.418,"paddingOuter":0.0635},"axis":{"orient":"bottom","offset":-482.7,"labelExpr":"[datum.label, 'of TTNtvA']","labelFontSize":12.3,"labelLineHeight":15,"labelPadding":5,"labelAngle":0,"labelAlign":"center","tickSize":0,"title":null}},
   "y":{"field":"q1","type":"quantitative","scale":{"domain":[0,50],"range":[379.3,182.7],"nice":false,"zero":false},"axis":{"orient":"left","offset":-645,"values":[0,50],"labelExpr":"datum.value + '%'","tickSize":0,"labelFontSize":8.5,"labelPadding":3,"title":null}},
   "y2":{"field":"q3"}}},
 {"data":{"name":"box"},"mark":{"type":"tick","color":"#231f20","size":46,"thickness":1.5,"opacity":1},"encoding":{"x":{"field":"g","type":"nominal"},"y":{"field":"md","type":"quantitative"}}},
 {"data":{"name":"box"},"mark":{"type":"tick","color":"#231f20","size":23,"thickness":1.5,"opacity":1},"encoding":{"x":{"field":"g","type":"nominal"},"y":{"field":"hi","type":"quantitative"}}},
 {"data":{"name":"box"},"mark":{"type":"tick","color":"#231f20","size":23,"thickness":1.5,"opacity":1},"encoding":{"x":{"field":"g","type":"nominal"},"y":{"field":"lo","type":"quantitative"}}},
 {"data":{"values":[{}]},"mark":{"type":"text","text":"Ribo-seq TTNtvA","fontSize":7.5,"align":"center","baseline":"middle"},"encoding":{"x":{"datum":"Upstream","bandPosition":1.24},"y":{"datum":48.1}}},
 {"data":{"values":[{}]},"mark":{"type":"text","text":"F344 SNP frequency","fontSize":12.5,"angle":270,"align":"center","baseline":"middle"},"encoding":{"x":{"datum":"Upstream","bandPosition":-0.35},"y":{"datum":25.3}}},
 {"data":{"values":[{}]},"mark":{"type":"text","text":"d","fontSize":13,"fontWeight":"bold","align":"left","baseline":"middle"},"encoding":{"x":{"datum":"Upstream","bandPosition":-0.93},"y":{"datum":51.5}}}
]},
{"layer":[
 {"data":{"name":"ez"},"mark":{"type":"point","filled":false,"color":"#000000","strokeWidth":1,"size":40,"opacity":1},"encoding":{
   "x":{"field":"x","type":"quantitative","scale":{"domain":[-2.2,100],"range":[70.7,271.7],"nice":false,"zero":false},"axis":{"orient":"bottom","offset":-252,"values":[10,48,86],"labelExpr":"datum.value == 10 ? 'Z-Disc' : datum.value == 48 ? 'SNP position' : 'M-line'","tickSize":0,"labelFontSize":11.5,"labelPadding":5,"title":null}},
   "y":{"field":"y","type":"quantitative","scale":{"domain":[0,100],"range":[610,439.3],"nice":false,"zero":false},"axis":{"orient":"left","offset":-75,"values":[0,50,100],"labelExpr":"datum.value + '%'","tickSize":4,"labelFontSize":11,"labelPadding":2,"title":null}}}},
 {"data":{"values":[{}]},"mark":{"type":"text","text":"Ribo-seq TTNtvZ","fontSize":12.5,"align":"center","baseline":"middle"},"encoding":{"x":{"datum":50.7},"y":{"datum":94.1}}},
 {"data":{"values":[{}]},"mark":{"type":"text","text":"F344 SNP frequency","fontSize":12.5,"angle":270,"align":"center","baseline":"middle"},"encoding":{"x":{"datum":-20.35},"y":{"datum":49.8}}},
 {"data":{"values":[{}]},"mark":{"type":"text","text":"e","fontSize":13,"fontWeight":"bold","align":"left","baseline":"middle"},"encoding":{"x":{"datum":-13.7},"y":{"datum":112.5}}}
]},
{"layer":[
 {"data":{"values":[{}]},"mark":{"type":"rule","color":"#231f20","strokeWidth":1},"encoding":{"x":{"datum":0},"x2":{"datum":167},"y":{"datum":50}}},
 {"data":{"name":"fp"},"mark":{"type":"line","color":"#a7a9ac","strokeWidth":1.3},"encoding":{
   "x":{"field":"i","type":"quantitative","scale":{"domain":[0,167],"range":[367.3,646.7],"nice":false,"zero":false},"axis":{"orient":"bottom","offset":-252,"values":[10,44.6,116.4,157],"labelExpr":"datum.value == 10 ? 'Z-disc' : datum.value < 50 ? 'I-band' : datum.value < 120 ? 'A-band' : 'M-line'","tickSize":0,"labelFontSize":11.5,"labelPadding":5,"title":null}},
   "y":{"field":"w","type":"quantitative","scale":{"domain":[0,100],"range":[610,439.3],"nice":false,"zero":false},"axis":{"orient":"left","offset":-367.3,"values":[0,50,100],"labelExpr":"datum.value + '%'","tickSize":5,"labelFontSize":11,"labelPadding":2,"title":null}}}},
 {"data":{"name":"fp"},"mark":{"type":"line","color":"#2e3192","strokeWidth":1.3},"encoding":{"x":{"field":"i","type":"quantitative"},"y":{"field":"t","type":"quantitative"}}},
 {"data":{"values":[{}]},"mark":{"type":"rect","color":"#a7a9ac"},"encoding":{"x":{"datum":132.3},"x2":{"datum":139.3},"y":{"datum":16.6},"y2":{"datum":20.5}}},
 {"data":{"values":[{}]},"mark":{"type":"rect","color":"#2e3192"},"encoding":{"x":{"datum":132.3},"x2":{"datum":139.3},"y":{"datum":4.9},"y2":{"datum":8.8}}},
 {"data":{"values":[{}]},"mark":{"type":"text","text":"WT","fontSize":12,"align":"left","baseline":"middle"},"encoding":{"x":{"datum":140.1},"y":{"datum":18.6}}},
 {"data":{"values":[{}]},"mark":{"type":"text","text":"TTNtvZ","fontSize":12,"align":"left","baseline":"middle"},"encoding":{"x":{"datum":140.1},"y":{"datum":6.4}}},
 {"data":{"values":[{}]},"mark":{"type":"text","text":"3-nt periodicity / exon","fontSize":12.5,"angle":270,"align":"center","baseline":"middle"},"encoding":{"x":{"datum":-32.5},"y":{"datum":49.8}}},
 {"data":{"values":[{}]},"mark":{"type":"text","text":"f","fontSize":13,"fontWeight":"bold","align":"left","baseline":"middle"},"encoding":{"x":{"datum":-34.3},"y":{"datum":103.7}}}
]},
{"layer":[
 {"data":{"values":[{"g":0.5},{"g":1.5}]},"mark":{"type":"rule","color":"#c7c8ca","strokeWidth":1},"encoding":{"x":{"datum":0},"x2":{"datum":100},"y":{"field":"g","type":"quantitative"}}},
 {"data":{"values":[{}]},"mark":{"type":"rule","color":"#414042","strokeWidth":1},"encoding":{"x":{"datum":0},"x2":{"datum":100},"y":{"datum":1.0}}},
 {"data":{"values":[{}]},"mark":{"type":"rule","color":"#8781bd","strokeWidth":1.6},"encoding":{"x":{"datum":1.18},"y":{"datum":0},"y2":{"datum":2}}},
 {"data":{"values":[{}]},"mark":{"type":"rule","color":"#29abe2","strokeWidth":1.2},"encoding":{"x":{"datum":84.4},"y":{"datum":0},"y2":{"datum":2}}},
 {"data":{"name":"gc"},"mark":{"type":"line","color":"#29abe2","strokeWidth":1.5},"encoding":{"x":{"field":"x","type":"quantitative"},"y":{"field":"y","type":"quantitative"}}},
 {"data":{"name":"gn"},"mark":{"type":"line","color":"#2e3192","strokeWidth":1.5},"encoding":{
   "x":{"field":"x","type":"quantitative","scale":{"domain":[0,100],"range":[82.7,364],"nice":false,"zero":false},"axis":{"orient":"bottom","offset":-27,"values":[6,28,64,94],"labelExpr":"datum.value == 6 ? 'Z-disc' : datum.value == 28 ? 'I-band' : datum.value == 64 ? 'A-band' : 'M-line'","tickSize":0,"labelFontSize":12.5,"labelPadding":6,"title":null}},
   "y":{"field":"y","type":"quantitative","scale":{"domain":[0,2],"range":[835,661.7],"nice":false,"zero":false},"axis":{"orient":"left","offset":-82.7,"values":[0.5,1,1.5],"format":".1f","tickSize":4,"labelFontSize":13.5,"labelPadding":3,"title":null}}}},
 {"data":{"values":[{}]},"mark":{"type":"text","text":"TTNtvZ","fontSize":12.5,"color":"#2e3192","align":"left","baseline":"middle"},"encoding":{"x":{"datum":1.9},"y":{"datum":0.104}}},
 {"data":{"values":[{}]},"mark":{"type":"text","text":"TTNtvA","fontSize":12.5,"color":"#29abe2","align":"left","baseline":"middle"},"encoding":{"x":{"datum":85.1},"y":{"datum":0.104}}},
 {"data":{"values":[{}]},"mark":{"type":"text","text":["Ribosome occupancy","TTNtv / WT"],"fontSize":12.5,"lineHeight":15,"angle":270,"align":"center","baseline":"middle"},"encoding":{"x":{"datum":-15},"y":{"datum":1.015}}},
 {"data":{"values":[{}]},"mark":{"type":"text","text":"g","fontSize":13,"fontWeight":"bold","align":"left","baseline":"middle"},"encoding":{"x":{"datum":-8.8},"y":{"datum":2.0}}}
]}
]
}
